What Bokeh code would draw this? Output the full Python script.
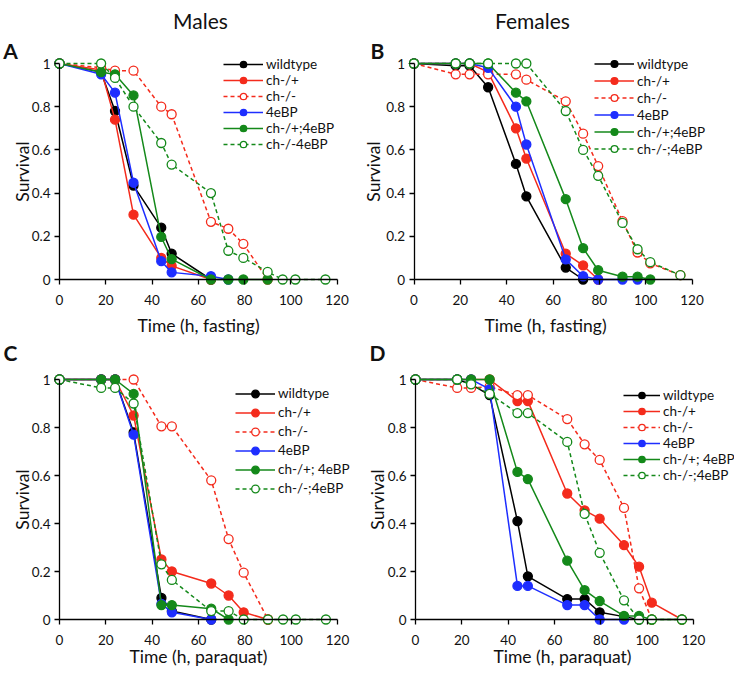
import math
from bokeh.plotting import figure
from bokeh.layouts import column, row
from bokeh.models import Label, Legend, LegendItem, FixedTicker, Range1d
from bokeh.embed import file_html
from bokeh.resources import INLINE

# ---------------- data ----------------
TIMES = [0, 18, 24, 32, 44, 48.5, 65.5, 73, 79.5, 90, 96.5, 102, 115]
X_TICKS = [0, 20, 40, 60, 80, 100, 120]
Y_TICKS = [0, 0.2, 0.4, 0.6, 0.8, 1]
Y_TICK_LABELS = ["0", "0.2", "0.4", "0.6", "0.8", "1"]

# Panel A: males, fasting
a_labels = ["wildtype", "ch-/+", "ch-/-", "4eBP", "ch-/+;4eBP", "ch-/-4eBP"]
a_wt = [1, 0.96, 0.78, 0.435, 0.24, 0.12, 0]
a_het = [1, 0.97, 0.74, 0.30, 0.10, 0.063, 0]
a_null = [1, 0.98, 0.967, 0.967, 0.80, 0.765, 0.267, 0.235, 0.165, 0]
a_4ebp = [1, 0.95, 0.865, 0.448, 0.085, 0.033, 0.015, 0]
a_het4 = [1, 0.96, 0.95, 0.852, 0.197, 0.094, 0, 0, 0, 0]
a_null4 = [1, 1, 0.933, 0.80, 0.632, 0.532, 0.40, 0.133, 0.10, 0.035, 0, 0, 0]

# Panel B: females, fasting
b_labels = ["wildtype", "ch-/+", "ch-/-", "4eBP", "ch-/+;4eBP", "ch-/-;4eBP"]
b_wt = [1, 0.99, 0.99, 0.89, 0.535, 0.385, 0.055, 0]
b_het = [1, 1, 1, 0.96, 0.70, 0.56, 0.12, 0.065, 0]
b_null = [1, 0.95, 0.95, 0.95, 0.95, 0.925, 0.825, 0.675, 0.525, 0.27, 0.125, 0.075, 0.02]
b_4ebp = [1, 1, 1, 0.98, 0.80, 0.625, 0.093, 0.015, 0, 0, 0]
b_het4 = [1, 1, 1, 1, 0.865, 0.825, 0.372, 0.145, 0.043, 0.013, 0.013, 0]
b_null4 = [1, 1, 1, 1, 1, 1, 0.78, 0.60, 0.48, 0.262, 0.14, 0.08, 0.02]

# Panel C: males, paraquat
c_labels = ["wildtype", "ch-/+", "ch-/-", "4eBP", "ch-/+; 4eBP", "ch-/-;4eBP"]
c_wt = [1, 1, 1, 0.78, 0.09, 0.035, 0]
c_het = [1, 1, 1, 0.85, 0.25, 0.20, 0.15, 0.10, 0.03, 0]
c_null = [1, 1, 1, 1, 0.805, 0.805, 0.58, 0.335, 0.195, 0]
c_4ebp = [1, 1, 1, 0.77, 0.065, 0.03, 0]
c_het4 = [1, 1, 1, 0.94, 0.06, 0.06, 0.045, 0]
c_null4 = [1, 0.965, 0.965, 0.90, 0.23, 0.165, 0.035, 0.035, 0, 0, 0, 0, 0]

# Panel D: females, paraquat
d_labels = ["wildtype", "ch-/+", "ch-/-", "4eBP", "ch-/+; 4eBP", "ch-/-;4eBP"]
d_wt = [1, 1, 0.98, 0.935, 0.41, 0.18, 0.085, 0.085, 0.03, 0.012, 0]
d_het = [1, 1, 1, 1, 0.91, 0.91, 0.525, 0.455, 0.42, 0.31, 0.22, 0.07, 0]
d_null = [1, 0.965, 0.965, 0.97, 0.935, 0.935, 0.835, 0.73, 0.665, 0.465, 0.13, 0]
d_4ebp = [1, 1, 1, 0.96, 0.14, 0.14, 0.06, 0.06, 0, 0]
d_het4 = [1, 1, 1, 1, 0.615, 0.585, 0.245, 0.122, 0.077, 0.015, 0.015, 0, 0]
d_null4 = [1, 1, 0.98, 0.94, 0.86, 0.86, 0.74, 0.44, 0.278, 0.08, 0, 0, 0]

# ---------------- styles ----------------
FONT = "Lato"
TXT = "#111111"
BLACK, RED, BLUE, GREEN = "#000000", "#f42b1c", "#1e2eff", "#14891a"
STYLES = [  # (color, dashed, open)
    (BLACK, False, False),
    (RED, False, False),
    (RED, True, True),
    (BLUE, False, False),
    (GREEN, False, False),
    (GREEN, True, True),
]


def make_panel(fig_left, fig_top, fig_w, fig_h, X0, X120, Y1, Y0, series, labels,
               xlabel, xlabel_xy, ylabel_xy, leg_left, leg_top, leg_row, leg_glyph,
               letter, letter_xy, header=None, header_xy=None):
    # the frame covers the whole figure; ranges are set so that the data
    # land at the wanted page pixels
    fl, fr, ft, fb = fig_left, fig_left + fig_w, fig_top, fig_top + fig_h
    sx = (X120 - X0) / 120.0
    sy = (Y0 - Y1) / 1.0
    xr = Range1d((fl - X0) / sx, (fr - X0) / sx)
    yr = Range1d((Y0 - fb) / sy, (Y0 - ft) / sy)

    p = figure(width=fig_w, height=fig_h, x_range=xr, y_range=yr,
               output_backend="svg", toolbar_location=None, title=None,
               min_border_left=0, min_border_right=0,
               min_border_top=0, min_border_bottom=0)
    p.outline_line_color = None
    p.grid.visible = False
    p.background_fill_color = "white"
    p.border_fill_color = "white"

    for ax in (p.xaxis[0], p.yaxis[0]):
        ax.fixed_location = 0
        ax.axis_line_color = "black"
        ax.axis_line_width = 1.3
        ax.major_tick_line_color = "black"
        ax.major_tick_line_width = 1.3
        ax.major_tick_in = 0
        ax.major_tick_out = 5
        ax.minor_tick_line_color = None
        ax.major_label_text_font = FONT
        ax.major_label_text_font_size = "13.5px"
        ax.major_label_text_color = TXT

    p.xaxis.bounds = (0, 120)
    p.xaxis.ticker = FixedTicker(ticks=X_TICKS)
    p.xaxis.major_label_standoff = 10

    p.yaxis.bounds = (0, 1)
    p.yaxis.ticker = FixedTicker(ticks=Y_TICKS)
    p.yaxis.major_label_overrides = {t: s for t, s in zip(Y_TICKS, Y_TICK_LABELS)}
    p.yaxis.major_label_standoff = 4

    items = []
    for vals, lab, (col, dashed, hollow) in zip(series, labels, STYLES):
        t = TIMES[:len(vals)]
        lr = p.line(t, vals, line_color=col, line_width=1.5,
                    line_dash="4 3" if dashed else "solid")
        sr = p.scatter(t, vals, marker="circle", size=9, line_color=col,
                       line_width=1.3, fill_color="white" if hollow else col)
        items.append(LegendItem(label=lab, renderers=[lr, sr]))

    n = len(items)
    leg_h = n * leg_row
    leg_bottom_page = leg_top + leg_h
    legend = Legend(items=items, location=(leg_left - fl, fb - leg_bottom_page),
                    glyph_width=leg_glyph, glyph_height=leg_row, label_height=leg_row,
                    spacing=0, padding=0, margin=0, label_standoff=3,
                    label_text_font=FONT, label_text_font_size="13.5px",
                    label_text_color=TXT, label_text_baseline="middle",
                    border_line_alpha=0, background_fill_alpha=0)
    p.add_layout(legend)

    def add_text(txt, xy, size, style="normal", angle=0.0):
        p.add_layout(Label(x=xy[0] - fl, y=fb - xy[1], x_units="screen", y_units="screen",
                           text=txt, text_align="center", text_baseline="middle",
                           angle=angle, text_font=FONT, text_font_size=size,
                           text_font_style=style, text_color=TXT))

    add_text(xlabel, xlabel_xy, "17.5px")
    add_text("Survival", ylabel_xy, "17.5px", angle=math.pi / 2)
    add_text(letter, letter_xy, "21px", "bold")
    if header:
        add_text(header, header_xy, "21px")
    return p


W1, W2 = 364, 370
H1, H2 = 340, 343

pA = make_panel(0, 0, W1, H1, 59, 336.5, 63, 279,
                [a_wt, a_het, a_null, a_4ebp, a_het4, a_null4], a_labels,
                "Time (h, fasting)", (198, 325), (22, 171), 223, 56, 16, 40,
                "A", (10, 50), "Males", (200, 20))
pB = make_panel(W1, 0, W2, H1, 413.5, 691.5, 63, 279,
                [b_wt, b_het, b_null, b_4ebp, b_het4, b_null4], b_labels,
                "Time (h, fasting)", (545, 325), (373, 171), 594, 55, 17, 40,
                "B", (377, 50), "Females", (532, 20))
pC = make_panel(0, H1, W1, H2, 59, 337, 379, 619,
                [c_wt, c_het, c_null, c_4ebp, c_het4, c_null4], c_labels,
                "Time (h, paraquat)", (198, 656), (22, 499), 235, 383.5, 19, 40,
                "C", (10, 352))
pD = make_panel(W1, H1, W2, H2, 415, 693, 379, 619,
                [d_wt, d_het, d_null, d_4ebp, d_het4, d_null4], d_labels,
                "Time (h, paraquat)", (562, 656), (377, 499), 623, 387, 16, 37,
                "D", (377, 352))

layout = column(row(pA, pB), row(pC, pD))
open("out.html", "w").write(file_html(layout, INLINE))
